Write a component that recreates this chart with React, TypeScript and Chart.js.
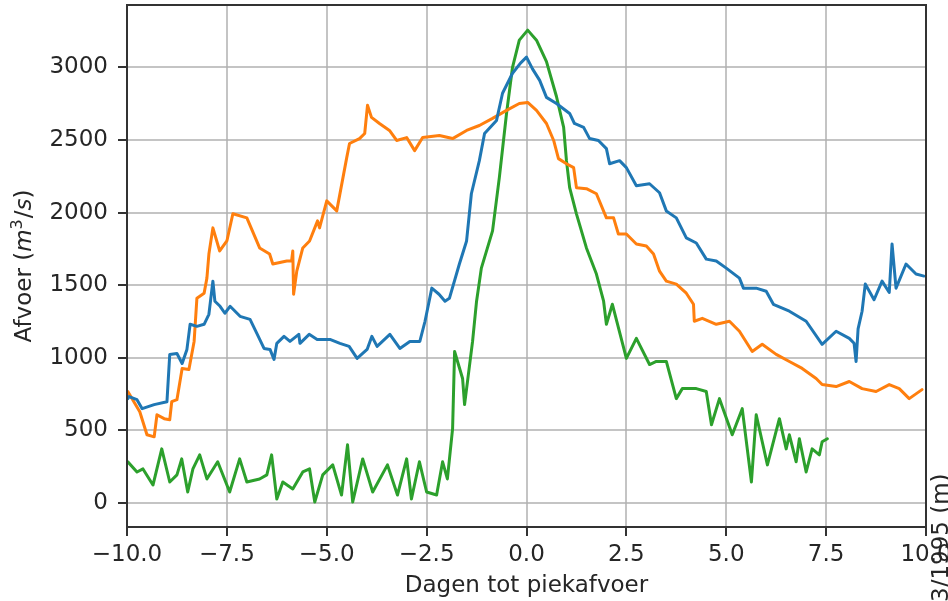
import React, { useEffect, useRef } from "react";
import { Chart, registerables } from "chart.js";

Chart.register(...registerables);

const xTickValues = [-10, -7.5, -5, -2.5, 0, 2.5, 5, 7.5, 10];
const yTickValues = [0, 500, 1000, 1500, 2000, 2500, 3000];
const xTitle = "Dagen tot piekafvoer";
// y-title pieces: [text, style] where style: n = normal, i = italic, s = superscript
const yTitleParts: [string, string][] = [["Afvoer (", "n"], ["m", "i"], ["3", "s"], ["/", "n"], ["s", "i"], [")", "n"]];
const clippedSideLabel = "3/1995 (m)";

const blueFlow: [number, number][] = [
  [-9.98, 719], [-9.95, 733], [-9.75, 712], [-9.62, 650], [-9.32, 678], [-9.0, 698], [-8.93, 1023], [-8.75, 1030],
  [-8.62, 961], [-8.5, 1058], [-8.42, 1231], [-8.25, 1217], [-8.07, 1231], [-7.95, 1300], [-7.85, 1528], [-7.8, 1390],
  [-7.67, 1355], [-7.55, 1307], [-7.42, 1355], [-7.17, 1286], [-6.92, 1265], [-6.75, 1169], [-6.57, 1065], [-6.42, 1058],
  [-6.32, 989], [-6.25, 1100], [-6.07, 1148], [-5.92, 1113], [-5.7, 1162], [-5.67, 1100], [-5.44, 1162], [-5.24, 1127],
  [-4.92, 1127], [-4.67, 1100], [-4.44, 1079], [-4.24, 996], [-3.99, 1058], [-3.87, 1148], [-3.74, 1079], [-3.42, 1162],
  [-3.17, 1065], [-2.92, 1113], [-2.67, 1113], [-2.54, 1252], [-2.37, 1480], [-2.19, 1438], [-2.04, 1390], [-1.93, 1410],
  [-1.68, 1646], [-1.5, 1805], [-1.38, 2130], [-1.18, 2358], [-1.05, 2545], [-0.75, 2635], [-0.6, 2822], [-0.35, 2960],
  [-0.15, 3030], [0, 3071], [0.15, 2990], [0.33, 2911], [0.5, 2794], [0.75, 2752], [1.08, 2683], [1.2, 2614],
  [1.43, 2587], [1.58, 2510], [1.8, 2497], [2.0, 2441], [2.08, 2337], [2.33, 2358], [2.5, 2310], [2.75, 2185],
  [3.08, 2199], [3.33, 2137], [3.5, 2012], [3.75, 1964], [4.0, 1826], [4.25, 1791], [4.5, 1680], [4.75, 1667],
  [5.0, 1618], [5.33, 1549], [5.43, 1480], [5.75, 1480], [6.0, 1459], [6.18, 1369], [6.58, 1321], [7.0, 1252],
  [7.4, 1093], [7.75, 1183], [8.08, 1134], [8.2, 1100], [8.25, 975], [8.3, 1200], [8.4, 1321], [8.48, 1508],
  [8.7, 1400], [8.9, 1528], [9.08, 1450], [9.15, 1784], [9.25, 1480], [9.5, 1646], [9.75, 1577], [9.95, 1563],
];

const orangeFlow: [number, number][] = [
  [-9.98, 768], [-9.95, 754], [-9.68, 629], [-9.5, 470], [-9.32, 456], [-9.25, 608], [-9.07, 581], [-8.93, 574],
  [-8.88, 698], [-8.75, 712], [-8.62, 927], [-8.45, 920], [-8.32, 1113], [-8.25, 1411], [-8.07, 1445], [-8.0, 1549],
  [-7.95, 1715], [-7.85, 1895], [-7.68, 1736], [-7.5, 1805], [-7.35, 1992], [-7.0, 1964], [-6.68, 1757], [-6.43, 1715],
  [-6.35, 1646], [-6.0, 1667], [-5.88, 1667], [-5.85, 1736], [-5.83, 1438], [-5.75, 1597], [-5.6, 1757], [-5.43, 1805],
  [-5.23, 1943], [-5.18, 1895], [-5.0, 2081], [-4.75, 2012], [-4.5, 2379], [-4.43, 2476], [-4.18, 2510], [-4.05, 2545],
  [-3.98, 2739], [-3.88, 2656], [-3.68, 2614], [-3.43, 2566], [-3.25, 2497], [-3.0, 2517], [-2.8, 2427], [-2.6, 2517],
  [-2.18, 2531], [-1.85, 2510], [-1.5, 2566], [-1.18, 2600], [-0.85, 2649], [-0.5, 2704], [-0.18, 2752], [0.03, 2759],
  [0.25, 2704], [0.5, 2614], [0.68, 2497], [0.8, 2372], [1.0, 2337], [1.18, 2310], [1.25, 2172], [1.5, 2165],
  [1.75, 2130], [2.0, 1964], [2.18, 1964], [2.3, 1853], [2.5, 1853], [2.75, 1784], [3.0, 1770], [3.18, 1715],
  [3.33, 1597], [3.5, 1528], [3.75, 1508], [4.0, 1445], [4.18, 1369], [4.2, 1252], [4.4, 1272], [4.75, 1231],
  [5.08, 1252], [5.33, 1183], [5.65, 1044], [5.9, 1093], [6.25, 1024], [6.58, 975], [6.9, 927], [7.25, 858],
  [7.4, 816], [7.75, 802], [8.08, 837], [8.4, 788], [8.75, 768], [9.08, 816], [9.33, 788], [9.58, 719],
  [9.9, 781],
];

const greenFlow: [number, number][] = [
  [-9.98, 284], [-9.75, 214], [-9.6, 235], [-9.35, 124], [-9.13, 373], [-8.93, 145], [-8.75, 194], [-8.63, 304],
  [-8.48, 76], [-8.35, 235], [-8.18, 332], [-8.0, 166], [-7.73, 284], [-7.43, 76], [-7.18, 304], [-7.0, 145],
  [-6.68, 166], [-6.5, 194], [-6.38, 332], [-6.25, 28], [-6.1, 145], [-5.85, 97], [-5.6, 214], [-5.43, 235],
  [-5.3, 7], [-5.1, 194], [-4.85, 263], [-4.63, 55], [-4.48, 401], [-4.35, 7], [-4.1, 304], [-3.85, 76],
  [-3.48, 263], [-3.23, 55], [-3.0, 304], [-2.88, 28], [-2.68, 284], [-2.5, 76], [-2.25, 55], [-2.1, 284],
  [-1.98, 166], [-1.85, 512], [-1.8, 1044], [-1.6, 858], [-1.55, 678], [-1.35, 1113], [-1.25, 1390], [-1.13, 1618],
  [-0.85, 1874], [-0.68, 2241], [-0.5, 2683], [-0.35, 3001], [-0.18, 3188], [0.03, 3257], [0.25, 3188], [0.5, 3040],
  [0.75, 2800], [0.93, 2587], [1.0, 2358], [1.08, 2172], [1.25, 1992], [1.5, 1757], [1.75, 1577], [1.93, 1390],
  [2.0, 1231], [2.15, 1369], [2.5, 996], [2.75, 1134], [3.08, 954], [3.25, 975], [3.5, 975], [3.75, 719],
  [3.9, 788], [4.25, 788], [4.5, 768], [4.63, 539], [4.83, 719], [5.15, 470], [5.4, 650], [5.63, 145],
  [5.75, 608], [6.03, 263], [6.33, 581], [6.5, 373], [6.58, 470], [6.75, 284], [6.83, 443], [7.0, 214],
  [7.15, 373], [7.33, 332], [7.4, 422], [7.53, 443],
];

const FONT = "'DejaVu Sans', sans-serif";
const TEXT = "#262626";

const toPoints = (arr: [number, number][]) => arr.map(([x, y]) => ({ x, y }));

const fmtX = (v: number) => {
  const s = Math.abs(v).toFixed(1);
  return v < 0 ? "\u2212" + s : s;
};

export default function App() {
  const ref = useRef<HTMLCanvasElement | null>(null);

  useEffect(() => {
    if (!ref.current) return;

    const partFont = (style: string) =>
      style === "i" ? `italic 23px ${FONT}` : style === "s" ? `16px ${FONT}` : `23px ${FONT}`;

    const framePlugin = {
      id: "frame",
      afterDatasetsDraw(chart: any) {
        const { ctx, chartArea } = chart;
        ctx.save();
        ctx.strokeStyle = "#333333";
        ctx.lineWidth = 2;
        ctx.strokeRect(chartArea.left, chartArea.top, chartArea.right - chartArea.left, chartArea.bottom - chartArea.top);
        ctx.restore();
      },
      afterDraw(chart: any) {
        const { ctx, chartArea } = chart;
        // y-axis title with math-style parts
        ctx.save();
        const cy = (chartArea.top + chartArea.bottom) / 2;
        ctx.translate(31, cy);
        ctx.rotate(-Math.PI / 2);
        ctx.fillStyle = TEXT;
        ctx.textBaseline = "alphabetic";
        ctx.textAlign = "left";
        let total = 0;
        const widths = yTitleParts.map(([t, st]) => {
          ctx.font = partFont(st);
          const w = ctx.measureText(t).width + (st === "s" ? 1 : 0);
          total += w;
          return w;
        });
        let x = -total / 2;
        yTitleParts.forEach(([t, st], i) => {
          ctx.font = partFont(st);
          ctx.fillText(t, x, st === "s" ? -9 : 0);
          x += widths[i];
        });
        ctx.restore();

        // clipped rotated label on the right edge
        ctx.save();
        ctx.translate(948, 602);
        ctx.rotate(-Math.PI / 2);
        ctx.font = `23px ${FONT}`;
        ctx.fillStyle = TEXT;
        ctx.textAlign = "left";
        ctx.textBaseline = "alphabetic";
        ctx.fillText(clippedSideLabel, 0, 0);
        ctx.restore();
      },
    };

    const gridOpts = {
      color: "rgba(176,176,176,0.75)",
      lineWidth: 2,
      tickColor: "#333333",
      tickLength: 9,
      tickWidth: 2,
    };

    const chart = new Chart(ref.current, {
      type: "line",
      data: {
        datasets: [
          { label: "blauw", data: toPoints(blueFlow), borderColor: "#1f77b4", backgroundColor: "#1f77b4" },
          { label: "oranje", data: toPoints(orangeFlow), borderColor: "#ff7f0e", backgroundColor: "#ff7f0e" },
          { label: "groen", data: toPoints(greenFlow), borderColor: "#2ca02c", backgroundColor: "#2ca02c" },
        ],
      },
      options: {
        responsive: false,
        animation: false,
        events: [],
        layout: { padding: { top: 5, right: 22, left: 0, bottom: 0 } },
        elements: {
          point: { radius: 0 },
          line: { borderWidth: 3, tension: 0, borderJoinStyle: "round", borderCapStyle: "round" },
        },
        plugins: { legend: { display: false }, tooltip: { enabled: false } },
        scales: {
          x: {
            type: "linear",
            min: -10,
            max: 10,
            afterBuildTicks: (s: any) => {
              s.ticks = xTickValues.map((v) => ({ value: v }));
            },
            afterFit: (s: any) => {
              s.height = 74;
              s.paddingLeft = 0;
              s.paddingRight = 0;
            },
            grid: gridOpts,
            border: { display: false },
            ticks: {
              autoSkip: false,
              maxRotation: 0,
              padding: 5,
              color: TEXT,
              font: { family: FONT, size: 23 },
              callback: (v: any) => fmtX(Number(v)),
            },
            title: {
              display: true,
              text: xTitle,
              color: TEXT,
              font: { family: FONT, size: 23 },
              padding: { top: 0, bottom: 1 },
            },
          },
          y: {
            type: "linear",
            min: -165,
            max: 3430,
            afterBuildTicks: (s: any) => {
              s.ticks = yTickValues.map((v) => ({ value: v }));
            },
            afterFit: (s: any) => {
              s.width = 127;
              s.paddingTop = 0;
              s.paddingBottom = 0;
            },
            grid: gridOpts,
            border: { display: false },
            ticks: {
              autoSkip: false,
              padding: 10,
              color: TEXT,
              font: { family: FONT, size: 23 },
              callback: (v: any) => String(v),
            },
            title: { display: false },
          },
        },
      },
      plugins: [framePlugin],
    } as any);

    return () => chart.destroy();
  }, []);

  return (
    <canvas
      ref={ref}
      width={948}
      height={601}
      style={{ position: "absolute", left: 0, top: 0, width: 948, height: 601, background: "#fff" }}
    />
  );
}
